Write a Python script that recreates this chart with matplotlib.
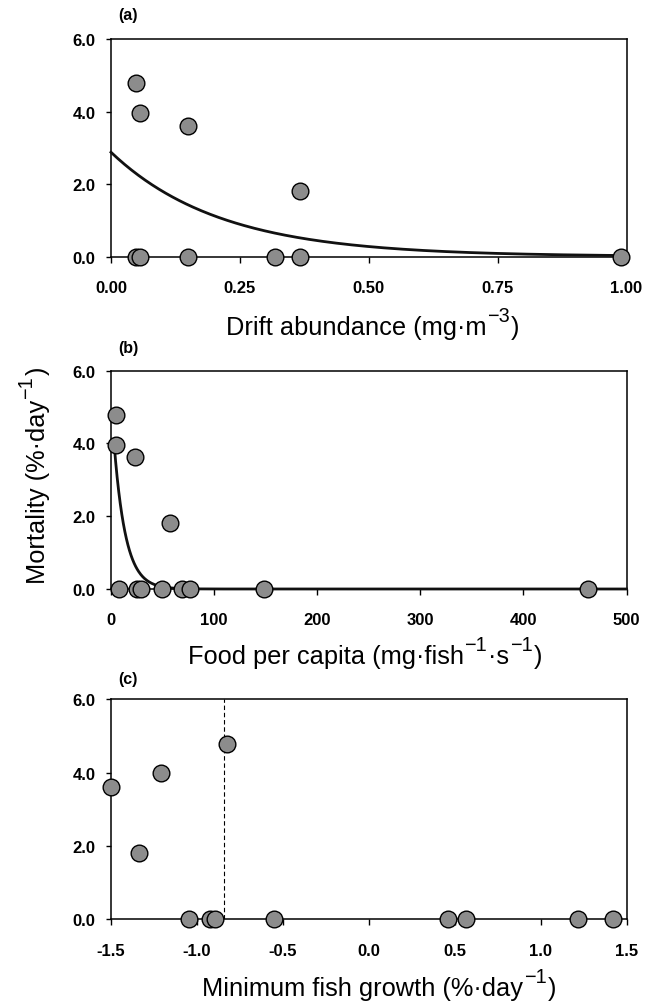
import numpy as np
import matplotlib
matplotlib.use("Agg")
import matplotlib.pyplot as plt
from matplotlib.transforms import IdentityTransform

plt.rcParams['font.family'] = ['Liberation Sans', 'DejaVu Sans']
plt.rcParams['axes.unicode_minus'] = False

# ---------------- data ----------------
# (a) drift abundance vs mortality
drift_x = [0.049, 0.057, 0.149, 0.366, 0.048, 0.056, 0.149, 0.319, 0.366, 0.990]
drift_y = [4.78, 3.97, 3.61, 1.81, 0.0, 0.0, 0.0, 0.0, 0.0, 0.0]
drift_fit_a, drift_fit_b = 2.88, 4.7
drift_fit_range = [0.0, 0.99]

# (b) food per capita vs mortality
food_x = [4.4, 5.0, 23.4, 57.2, 7.5, 25.5, 29.2, 49.5, 68.8, 76.5, 148.6, 462.5]
food_y = [4.78, 3.97, 3.63, 1.81, 0.0, 0.0, 0.0, 0.0, 0.0, 0.0, 0.0, 0.0]
food_fit_a, food_fit_b = 5.22, 0.089
food_fit_range = [3.0, 500.0]

# (c) minimum fish growth vs mortality
growth_x = [-1.50, -1.21, -1.338, -0.824, -1.045, -0.924, -0.895, -0.551, 0.461, 0.568, 1.217, 1.421]
growth_y = [3.62, 3.98, 1.81, 4.77, 0.0, 0.0, 0.0, 0.0, 0.0, 0.0, 0.0, 0.0]
growth_threshold = -0.842

y_ticks = [0.0, 2.0, 4.0, 6.0]
xt_a = [0.0, 0.25, 0.50, 0.75, 1.00]
xt_b = [0, 100, 200, 300, 400, 500]
xt_c = [-1.5, -1.0, -0.5, 0.0, 0.5, 1.0, 1.5]

# label pieces: (text, is_superscript)
xlabels = [
    [("Drift abundance (mg\u00b7m", False), ("\u22123", True), (")", False)],
    [("Food per capita (mg\u00b7fish", False), ("\u22121", True), ("\u00b7s", False),
     ("\u22121", True), (")", False)],
    [("Minimum fish growth (%\u00b7day", False), ("\u22121", True), (")", False)],
]
ylabel = [("Mortality (%\u00b7day", False), ("\u22121", True), (")", False)]
panel_tags = ["(a)", "(b)", "(c)"]

# ---------------- figure ----------------
W, H = 645, 1004
fig = plt.figure(figsize=(W / 100, H / 100), dpi=100)
renderer = fig.canvas.get_renderer()

left_px, right_px = 111, 626.5
tops = [40.3, 371.7, 700.3]
bottoms = [257.5, 590.0, 920.3]

axes = []
for t, b in zip(tops, bottoms):
    ax = fig.add_axes([left_px / W, 1 - b / H, (right_px - left_px) / W, (b - t) / H])
    axes.append(ax)

marker_kw = dict(linestyle='none', marker='o', ms=12, mfc='#8c8c8c', mec='black',
                 mew=1.0, clip_on=False, zorder=5)


def style(ax, xticks, xfmt, xlim):
    ax.set_xlim(*xlim)
    ax.set_ylim(0, 6)
    ax.set_yticks(y_ticks)
    ax.set_yticklabels([f"{v:.1f}" for v in y_ticks])
    ax.set_xticks(xticks)
    ax.set_xticklabels([xfmt(v) for v in xticks])
    for s in ax.spines.values():
        s.set_linewidth(1.1)
    ax.tick_params(axis='y', direction='out', length=3.6, width=1.0, pad=7.5,
                   labelsize=12)
    ax.tick_params(axis='x', direction='out', length=4.3, width=1.0, pad=12.5,
                   labelsize=12)
    for lab in ax.get_xticklabels() + ax.get_yticklabels():
        lab.set_fontweight('bold')


def rich_text(parts, fs, center, base, vertical=False):
    """Draw text with large raised superscripts, in pixel coordinates
    (origin bottom-left). center: along-text centre; base: baseline position."""
    sup_scale = 0.78
    rise = 0.53 * fs * 100 / 72
    widths = []
    for s, sup in parts:
        t = fig.text(0, 0, s, fontsize=fs * (sup_scale if sup else 1.0))
        widths.append(t.get_window_extent(renderer).width + 1.0)
        t.remove()
    pos = center - sum(widths) / 2
    for (s, sup), w in zip(parts, widths):
        size = fs * (sup_scale if sup else 1.0)
        off = rise if sup else 0.0
        if vertical:
            x, y, rot = base - off, pos, 90
        else:
            x, y, rot = pos, base + off, 0
        fig.text(x, y, s, fontsize=size, rotation=rot, rotation_mode='anchor',
                 ha='left', va='baseline', transform=IdentityTransform())
        pos += w


# (a)
ax = axes[0]
xs = np.linspace(drift_fit_range[0], drift_fit_range[1], 300)
ax.plot(xs, drift_fit_a * np.exp(-drift_fit_b * xs), color='#111111', lw=2.0,
        zorder=3, clip_on=False)
ax.plot(drift_x, drift_y, **marker_kw)
style(ax, xt_a, lambda v: f"{v:.2f}", (0, 1))

# (b)
ax = axes[1]
xs = np.linspace(food_fit_range[0], food_fit_range[1], 1000)
ax.plot(xs, food_fit_a * np.exp(-food_fit_b * xs), color='#111111', lw=2.0,
        zorder=3, clip_on=False)
ax.plot(food_x, food_y, **marker_kw)
style(ax, xt_b, lambda v: f"{v:d}", (0, 500))

# (c)
ax = axes[2]
ax.plot([growth_threshold, growth_threshold], [0, 6], color='black', lw=0.8,
        linestyle=(0, (4, 2.5)), zorder=2)
ax.plot(growth_x, growth_y, **marker_kw)
style(ax, xt_c, lambda v: f"{v:.1f}", (-1.5, 1.5))

# x labels and panel tags
label_fs = 18.3
xcenters = [373.0, 365.5, 380.0]
baselines = [335.0, 664.3, 996.0]
for lab, tag, t, cx, bl in zip(xlabels, panel_tags, [15.5, 349.0, 680.0],
                               xcenters, baselines):
    rich_text(lab, label_fs, cx, H - bl)
    fig.text(118 / W, 1 - t / H, tag, ha='left', va='center',
             fontsize=11.5, fontweight='bold')

rich_text(ylabel, label_fs, H - 475.0, 45.0, vertical=True)

fig.savefig("out.png", dpi=100)
